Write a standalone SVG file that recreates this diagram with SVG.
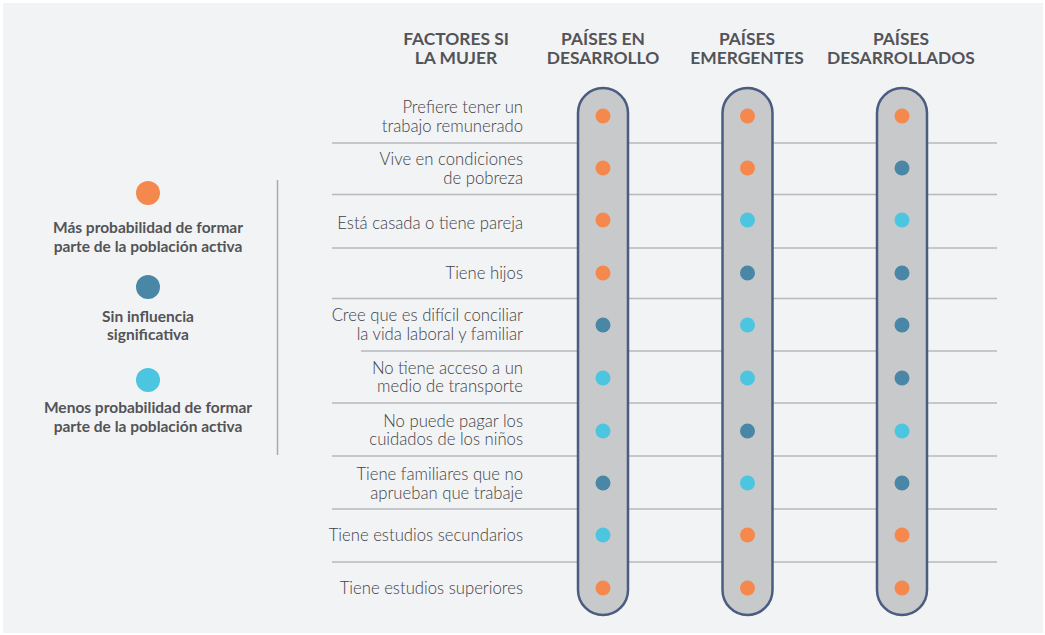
<svg xmlns="http://www.w3.org/2000/svg" width="1045" height="635" viewBox="0 0 1045 635">
<style>
.hdr{font-family:Lato,"Open Sans","Liberation Sans",sans-serif;font-weight:700;font-size:17.4px;fill:#535457;text-anchor:middle}
.lbl{font-family:Lato,"Open Sans","Liberation Sans",sans-serif;font-weight:300;font-size:16.7px;fill:#414245;text-anchor:end}
.leg{font-family:Lato,"Open Sans","Liberation Sans",sans-serif;font-weight:700;font-size:15.5px;fill:#535457;text-anchor:middle}
.sep{stroke:#b7b8bb;stroke-width:1.5;fill:none}
.pill{fill:#c8c9cb;stroke:#4a5d80;stroke-width:2.5}
.o{fill:#f5884c}
.d{fill:#4a87a7}
.c{fill:#4bc5e0}
</style>
<rect x="0" y="0" width="1045" height="635" fill="#ffffff"/>
<rect x="3" y="3" width="1040" height="630" fill="#f2f3f5"/>

<g id="headers">
<text class="hdr" x="456" y="45">FACTORES SI</text>
<text class="hdr" x="456" y="64">LA MUJER</text>
<text class="hdr" x="603" y="45">PAÍSES EN</text>
<text class="hdr" x="603" y="64">DESARROLLO</text>
<text class="hdr" x="747" y="45">PAÍSES</text>
<text class="hdr" x="747" y="64">EMERGENTES</text>
<text class="hdr" x="901" y="45">PAÍSES</text>
<text class="hdr" x="901" y="64">DESARROLLADOS</text>
</g>

<g id="legend">
<circle class="o" cx="148" cy="193" r="12"/>
<text class="leg" x="148" y="233">Más probabilidad de formar</text>
<text class="leg" x="148" y="251.5">parte de la población activa</text>
<circle class="d" cx="148" cy="287" r="12"/>
<text class="leg" x="148" y="321.5">Sin influencia</text>
<text class="leg" x="148" y="340">significativa</text>
<circle class="c" cx="148" cy="380" r="12"/>
<text class="leg" x="148" y="413">Menos probabilidad de formar</text>
<text class="leg" x="148" y="431.5">parte de la población activa</text>
<line x1="277.5" y1="180" x2="277.5" y2="455" stroke="#a9aaad" stroke-width="1.5"/>
</g>

<g id="connectors">
<line class="sep" x1="332" y1="143" x2="997" y2="143"/>
<line class="sep" x1="332" y1="194.5" x2="997" y2="194.5"/>
<line class="sep" x1="332" y1="248" x2="997" y2="248"/>
<line class="sep" x1="332" y1="298.5" x2="997" y2="298.5"/>
<line class="sep" x1="361" y1="351" x2="997" y2="351"/>
<line class="sep" x1="332" y1="403" x2="997" y2="403"/>
<line class="sep" x1="332" y1="456" x2="997" y2="456"/>
<line class="sep" x1="332" y1="509" x2="997" y2="509"/>
<line class="sep" x1="332" y1="562" x2="997" y2="562"/>
</g>

<g id="labels">
<text class="lbl" x="523" y="113">Prefiere tener un</text>
<text class="lbl" x="523" y="132">trabajo remunerado</text>
<text class="lbl" x="523" y="165">Vive en condiciones</text>
<text class="lbl" x="523" y="184">de pobreza</text>
<text class="lbl" x="523" y="228.5">Está casada o tiene pareja</text>
<text class="lbl" x="523" y="278.5">Tiene hijos</text>
<text class="lbl" x="523" y="321">Cree que es difícil conciliar</text>
<text class="lbl" x="523" y="340">la vida laboral y familiar</text>
<text class="lbl" x="523" y="374">No tiene acceso a un</text>
<text class="lbl" x="523" y="392">medio de transporte</text>
<text class="lbl" x="523" y="427">No puede pagar los</text>
<text class="lbl" x="523" y="445">cuidados de los niños</text>
<text class="lbl" x="523" y="480">Tiene familiares que no</text>
<text class="lbl" x="523" y="498.5">aprueban que trabaje</text>
<text class="lbl" x="523" y="540.5">Tiene estudios secundarios</text>
<text class="lbl" x="523" y="594">Tiene estudios superiores</text>
</g>

<g id="col-desarrollo">
<rect class="pill" x="578" y="88" width="50" height="527" rx="25" ry="25"/>
<circle class="o" cx="603" cy="116" r="7.5"/>
<circle class="o" cx="603" cy="168" r="7.5"/>
<circle class="o" cx="603" cy="220" r="7.5"/>
<circle class="o" cx="603" cy="273" r="7.5"/>
<circle class="d" cx="603" cy="325" r="7.5"/>
<circle class="c" cx="603" cy="378" r="7.5"/>
<circle class="c" cx="603" cy="431" r="7.5"/>
<circle class="d" cx="603" cy="483" r="7.5"/>
<circle class="c" cx="603" cy="535" r="7.5"/>
<circle class="o" cx="603" cy="588" r="7.5"/>
</g>

<g id="col-emergentes">
<rect class="pill" x="722.5" y="88" width="50" height="527" rx="25" ry="25"/>
<circle class="o" cx="747.5" cy="116" r="7.5"/>
<circle class="o" cx="747.5" cy="168" r="7.5"/>
<circle class="c" cx="747.5" cy="220" r="7.5"/>
<circle class="d" cx="747.5" cy="273" r="7.5"/>
<circle class="c" cx="747.5" cy="325" r="7.5"/>
<circle class="c" cx="747.5" cy="378" r="7.5"/>
<circle class="d" cx="747.5" cy="431" r="7.5"/>
<circle class="c" cx="747.5" cy="483" r="7.5"/>
<circle class="o" cx="747.5" cy="535" r="7.5"/>
<circle class="o" cx="747.5" cy="588" r="7.5"/>
</g>

<g id="col-desarrollados">
<rect class="pill" x="877" y="88" width="50" height="527" rx="25" ry="25"/>
<circle class="o" cx="902" cy="116" r="7.5"/>
<circle class="d" cx="902" cy="168" r="7.5"/>
<circle class="c" cx="902" cy="220" r="7.5"/>
<circle class="d" cx="902" cy="273" r="7.5"/>
<circle class="d" cx="902" cy="325" r="7.5"/>
<circle class="d" cx="902" cy="378" r="7.5"/>
<circle class="c" cx="902" cy="431" r="7.5"/>
<circle class="d" cx="902" cy="483" r="7.5"/>
<circle class="o" cx="902" cy="535" r="7.5"/>
<circle class="o" cx="902" cy="588" r="7.5"/>
</g>
</svg>
